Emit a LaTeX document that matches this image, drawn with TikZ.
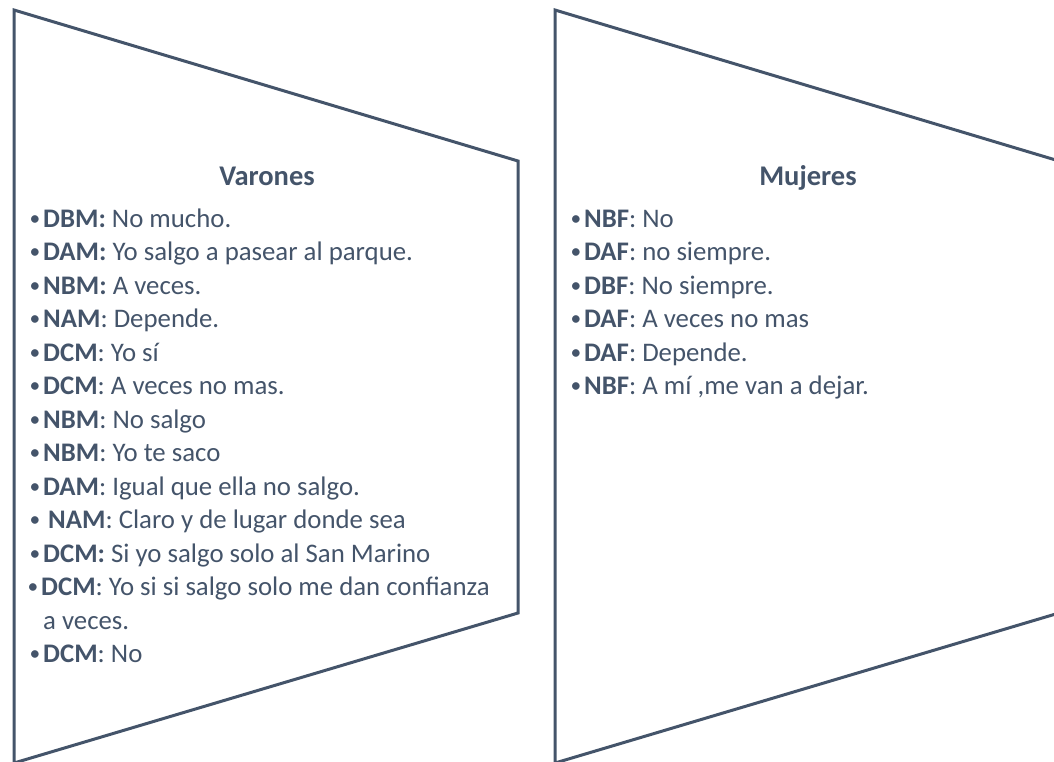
\documentclass[tikz,border=0pt]{standalone}
\usepackage{fontspec}
\usepackage{graphicx}
\setmainfont{Carlito}
\definecolor{ink}{HTML}{44546A}
\newcommand{\itembul}{\llap{\raisebox{1.8pt}{\scalebox{0.8}{•}}\hspace{3pt}}}
\begin{document}
\begin{tikzpicture}[x=1pt,y=-1pt,
  shapeline/.style={draw=ink,line width=3pt,line join=miter},
  item/.style={anchor=base west,inner sep=0pt,text=ink,font=\fontsize{26.8}{31}\selectfont},
  title/.style={anchor=base,inner sep=0pt,text=ink,font=\fontsize{28.5}{34}\selectfont\bfseries}]
\useasboundingbox (0,0) rectangle (1054,761);
\clip (0,0) rectangle (1054,761);
\draw[shapeline] (14,10) -- (518,161) -- (518,613) -- (14,763) -- cycle;
\draw[shapeline] (555,10) -- (1059,161) -- (1059,613) -- (555,763) -- cycle;
\node[title] (vt) at (267,185) {Varones};
\node[title] (mt) at (808,185) {Mujeres};
\foreach \t [count=\i] in {
  {\itembul\textbf{DBM:} No mucho.},
  {\itembul\textbf{DAM:} Yo salgo a pasear al parque.},
  {\itembul\textbf{NBM:} A veces.},
  {\itembul\textbf{NAM}: Depende.},
  {\itembul\textbf{DCM}: Yo sí},
  {\itembul\textbf{DCM}: A veces no mas.},
  {\itembul\textbf{NBM}: No salgo},
  {\itembul\textbf{NBM}: Yo te saco},
  {\itembul\textbf{DAM}: Igual que ella no salgo.},
  {\itembul\hspace{5pt}\textbf{NAM}: Claro y de lugar donde sea},
  {\itembul\textbf{DCM:} Si yo salgo solo al San Marino},
  {\hspace{-2pt}\itembul\textbf{DCM}: Yo si si salgo solo me dan confianza},
  {a veces.},
  {\itembul\textbf{DCM}: No}}
  \node[item] (v\i) at (43,{227+(\i-1)*33.5}) {\t};
\foreach \t [count=\i] in {
  {\itembul\textbf{NBF}: No},
  {\itembul\textbf{DAF}: no siempre.},
  {\itembul\textbf{DBF}: No siempre.},
  {\itembul\textbf{DAF}: A veces no mas},
  {\itembul\textbf{DAF}: Depende.},
  {\itembul\textbf{NBF}: A mí ,me van a dejar.}}
  \node[item] (m\i) at (584,{227+(\i-1)*33.5}) {\t};
\end{tikzpicture}
\end{document}
